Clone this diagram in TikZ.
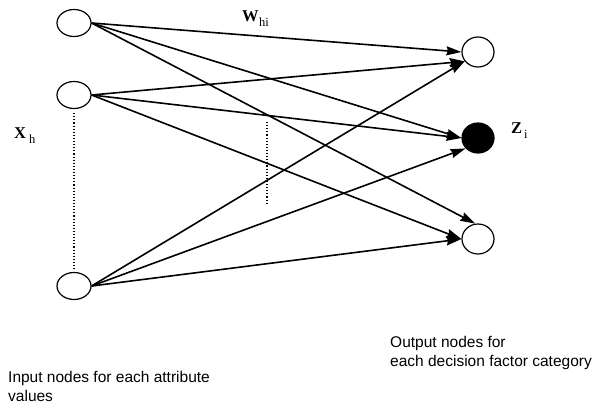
\documentclass[tikz,border=0pt]{standalone}
\usepackage{fontspec}
\setmainfont{Liberation Serif}
\setsansfont{Liberation Sans}
\usetikzlibrary{arrows.meta,shapes.geometric}
\begin{document}
\begin{tikzpicture}[x=1pt,y=-1pt,
 inp/.style={ellipse,draw,line width=1.2pt,minimum width=34pt,minimum height=27pt,inner sep=0pt},
 outp/.style={ellipse,draw,line width=1.2pt,minimum width=32pt,minimum height=30pt,inner sep=0pt},
 conn/.style={line width=1.6pt,-{Stealth[length=15pt,width=9pt,inset=1.5pt]}},
 dots/.style={dotted,line width=1.1pt},
 lbl/.style={font=\sffamily\fontsize{15.5}{19}\selectfont,align=left,inner sep=0pt,anchor=north west},
 sym/.style={inner sep=0pt,anchor=base west}]
\useasboundingbox (0,0) rectangle (596,408);
\node[inp] (i1) at (74,23) {};
\node[inp] (i2) at (74,95) {};
\node[inp] (i3) at (74,286) {};
\node[outp] (o1) at (478,52) {};
\node[outp,fill=black] (o2) at (478,138) {};
\node[outp] (o3) at (478,239) {};
\draw[conn] (i1.east) -- (o1.west);
\draw[conn] (i1.east) -- (o2.west);
\draw[conn] (i1.east) -- (o3.100);
\draw[conn] (i2.east) -- (o1.215);
\draw[conn] (i2.east) -- (o2.west);
\draw[conn] (i2.east) -- (o3.west);
\draw[conn] (i3.east) -- (o1.215);
\draw[conn] (i3.east) -- (o2.220);
\draw[conn] (i3.east) -- (o3.west);
\draw[dots] ([yshift=-4pt]i2.south) -- ([yshift=2pt]i3.north);
\coordinate (m1) at (267,122);
\coordinate (m2) at (267,205);
\draw[dots] (m1) -- (m2);
\node[sym] (w) at (242,21) {\fontsize{16.5}{16}\selectfont\bfseries W\kern0.5pt\raisebox{-5pt}{\mdseries\fontsize{12.5}{12}\selectfont hi}};
\node[sym] (x) at (14,138) {\fontsize{16.5}{16}\selectfont\bfseries X\kern3pt\raisebox{-5pt}{\mdseries\fontsize{12.5}{12}\selectfont h}};
\node[sym] (z) at (511,133) {\fontsize{16.5}{16}\selectfont\bfseries Z\kern2pt\raisebox{-5pt}{\mdseries\fontsize{12.5}{12}\selectfont i}};
\node[lbl] (outtxt) at (390,336) {Output nodes for\\each decision factor category};
\node[lbl] (intxt) at (8,371) {Input nodes for each attribute\\values};
\end{tikzpicture}
\end{document}
